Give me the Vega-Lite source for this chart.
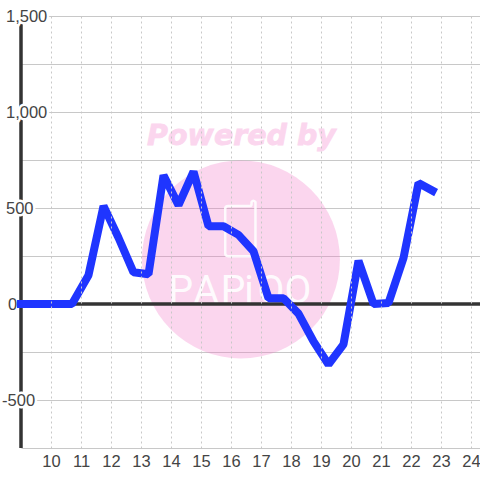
{"$schema":"https://vega.github.io/schema/vega-lite/v6.json","width":459,"height":432,"padding":{"left":21,"top":16,"right":0,"bottom":32},"autosize":{"type":"none"},"background":"#ffffff","view":{"stroke":null},"config":{"axis":{"labelFont":"Liberation Sans","labelFontSize":16.5,"labelColor":"#444444"}},"datasets":{"s":[{"t":9,"v":0},{"t":9.25,"v":0},{"t":9.75,"v":0},{"t":10.25,"v":0},{"t":10.7,"v":0},{"t":11.25,"v":150},{"t":11.75,"v":510},{"t":12.25,"v":345},{"t":12.75,"v":165},{"t":13.25,"v":155},{"t":13.75,"v":670},{"t":14.25,"v":515},{"t":14.75,"v":690},{"t":15.25,"v":405},{"t":15.75,"v":405},{"t":16.25,"v":360},{"t":16.75,"v":275},{"t":17.25,"v":30},{"t":17.75,"v":30},{"t":18.25,"v":-50},{"t":18.75,"v":-195},{"t":19.25,"v":-315},{"t":19.75,"v":-210},{"t":20.25,"v":225},{"t":20.75,"v":0},{"t":21.25,"v":5},{"t":21.75,"v":240},{"t":22.25,"v":630},{"t":22.72,"v":590}],"labels":[{"t":8.5,"v":1500,"l":"1,500"},{"t":8.5,"v":1000,"l":"1,000"},{"t":8.5,"v":500,"l":"500"},{"t":8.57,"v":0,"l":"0"},{"t":8.37,"v":-500,"l":"-500"}],"logo":[{"t":14.33,"v":5,"l":"P"},{"t":15.17,"v":5,"l":"A"},{"t":16.07,"v":5,"l":"P"},{"t":16.6,"v":5,"l":"i"},{"t":17.33,"v":5,"l":"O"},{"t":18.23,"v":5,"l":"O"}]},"encoding":{"x":{"field":"t","type":"quantitative","scale":{"domain":[9,24.3],"nice":false,"zero":false},"axis":{"values":[10,11,12,13,14,15,16,17,18,19,20,21,22,23,24],"labelOverlap":false,"labelBound":false,"labelFlush":false,"grid":true,"gridColor":"#c8c8c8","gridDash":[2,3],"gridWidth":1,"domain":false,"ticks":false,"labelPadding":5,"title":null,"zindex":1}},"y":{"field":"v","type":"quantitative","scale":{"domain":[-750,1500],"nice":false,"zero":false},"axis":{"values":[-750,-500,-250,0,250,500,750,1000,1250,1500],"grid":true,"gridColor":"#c8c8c8","gridWidth":1,"domain":false,"ticks":false,"labels":false,"title":null}}},"layer":[{"data":{"values":[{"t":16.33,"v":232}]},"mark":{"type":"point","shape":"circle","filled":true,"size":39204,"color":"#f276c6","opacity":0.3}},{"data":{"values":[{"t":16.35,"v":875,"l":"Powered by"}]},"mark":{"type":"text","font":"DejaVu Sans","fontWeight":"bold","fontStyle":"italic","fontSize":28.5,"color":"#fbd6ee","stroke":"#fbd6ee","strokeWidth":0.8},"encoding":{"text":{"field":"l"}}},{"data":{"name":"logo"},"mark":{"type":"text","font":"Roboto","baseline":"alphabetic","fontSize":39,"color":"#ffffff","opacity":0.9},"encoding":{"text":{"field":"l"}}},{"data":{"values":[{"t":16.33,"v":395}]},"mark":{"type":"point","filled":false,"size":3136,"stroke":"#ffffff","strokeWidth":2.5,"opacity":0.9,"shape":"M-0.46,-0.79 L0.32,-0.79 Q0.38,-0.79 0.38,-0.86 L0.38,-0.93 Q0.44,-1.02 0.52,-0.93 L0.52,0.9 Q0.52,1 0.42,1 L-0.46,1 Q-0.56,1 -0.56,0.9 L-0.56,-0.69 Q-0.56,-0.79 -0.46,-0.79 Z"}},{"data":{"values":[{"v":1460,"v2":-750,"t":9}]},"mark":{"type":"rule","color":"#333333","strokeWidth":3.5},"encoding":{"y2":{"field":"v2"}}},{"data":{"values":[{"t":9,"t2":24.3,"v":0}]},"mark":{"type":"rule","color":"#333333","strokeWidth":3.5},"encoding":{"x2":{"field":"t2"}}},{"data":{"name":"labels"},"mark":{"type":"text","font":"Liberation Sans","fontSize":16.5,"align":"left","dy":1,"color":"#ffffff","stroke":"#ffffff","strokeWidth":5,"clip":false},"encoding":{"text":{"field":"l"}}},{"data":{"name":"labels"},"mark":{"type":"text","font":"Liberation Sans","fontSize":16.5,"align":"left","dy":1,"color":"#444444","clip":false},"encoding":{"text":{"field":"l"}}},{"data":{"name":"s"},"mark":{"type":"line","color":"#1f35ff","strokeWidth":8,"strokeCap":"square","strokeJoin":"bevel"}}]}
